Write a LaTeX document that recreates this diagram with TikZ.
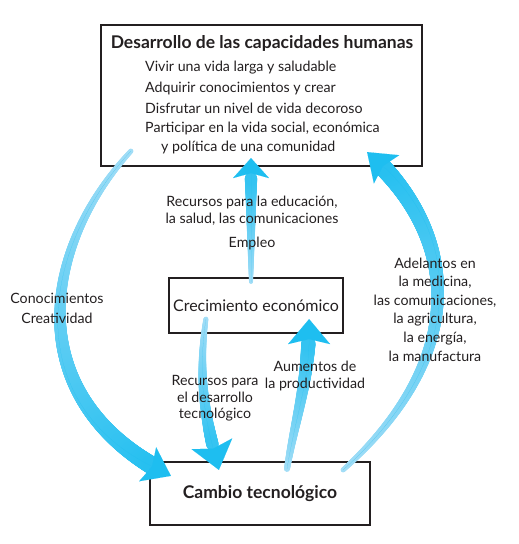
\documentclass[tikz,border=0pt]{standalone}
\usepackage{fontspec}
\setmainfont{Lato}
\usetikzlibrary{calc,decorations.markings,arrows.meta}
\definecolor{flowstart}{RGB}{163,221,246}
\definecolor{flowend}{RGB}{30,190,240}
\definecolor{tinta}{RGB}{35,31,32}
\begin{document}
\begin{tikzpicture}[x=1pt,y=-1pt,font=\fontsize{14.2}{17}\selectfont,
	box/.style={draw=tinta,text=tinta,line width=2.2pt,inner sep=0pt},
	lbl/.style={text=tinta,align=center,inner sep=0pt},
	bold/.style={font=\fontsize{17.5}{20}\selectfont\bfseries},
	flow/.style n args={4}{draw=flowend,line width=0.01pt,-{Stealth[length=#4pt,width=#3pt,inset=5pt]},
		preaction={decorate,decoration={markings,
		mark=between positions 0 and -#4pt step 0.5pt with {\pgfmathsetmacro\fr{\pgfkeysvalueof{/pgf/decoration/mark info/distance from start}/\pgfdecoratedpathlength}%
			\pgfmathsetmacro\rr{#1+(#2-#1)*\fr}\pgfmathsetmacro\pc{100*\fr}%
			\fill[flowend!\pc!flowstart] (0pt,0pt) circle (\rr pt);}}}}]
	\useasboundingbox (0,0) rectangle (519,544);
	% cajas
	\node[box,minimum width=321pt,minimum height=141pt] (desarrollo) at (261.5,95.5) {};
	\node[box,minimum width=174pt,minimum height=55pt,font=\fontsize{16}{19}\selectfont] (crecimiento) at (256,305.5) {Crecimiento económico};
	\node[box,bold,minimum width=220pt,minimum height=63pt] (cambio) at (260,493.5) {Cambio tecnológico};
	% flechas
	\draw[flow={2.5}{9.5}{38}{26}] ($(desarrollo.south west)+(31,-16)$) .. controls +(-92,100) and +(-150,-75) .. ($(cambio.north west)+(22,15)$);
	\draw[flow={2.5}{9.5}{38}{26}] ($(cambio.north east)+(-28,9)$) .. controls +(130,-117) and +(90,80) .. ($(desarrollo.south east)+(-56,-15)$);
	\draw[flow={2}{7}{36}{20}] ($(crecimiento.north)+(-5,5)$) -- ($(desarrollo.south)+(-10.5,-9)$);
	\draw[flow={2.5}{7}{42}{27}] ($(crecimiento.south west)+(38,-15)$) .. controls +(-9,62) and +(-12,-45) .. ($(cambio.north west)+(70,9)$);
	\draw[flow={3}{8}{42}{25}] ($(cambio.north)+(27,8)$) .. controls +(8,-50) and +(0,62) .. ($(crecimiento.south east)+(-35,-15)$);
	% textos
	\node[lbl,bold] (titulo) at (262,43) {Desarrollo de las capacidades humanas};
	\foreach \xx/\yy/\txt [count=\k] in {145/68/Vivir una vida larga y saludable,145/88/Adquirir conocimientos y crear,145/108/Disfrutar un nivel de vida decoroso,145/128/{Participar en la vida social, económica},161/147/y política de una comunidad}
	\node[lbl,anchor=west] (meta\k) at (\xx,\yy) {\txt};
	\node[lbl] (recursos) at (252,211) {Recursos para la educación,\\la salud, las comunicaciones};
	\node[lbl] (empleo) at (252,243) {Empleo};
	\node[lbl] (conocimientos) at (57,308) {Conocimientos\\[3pt]Creatividad};
	\node[lbl,font=\fontsize{14.2}{18.6}\selectfont] (adelantos) at (435,309.5) {Adelantos en\\la medicina,\\las comunicaciones,\\la agricultura,\\la energía,\\la manufactura};
	\node[lbl,font=\fontsize{14.2}{16.5}\selectfont] (recursostec) at (215,398.5) {Recursos para\\el desarrollo\\tecnológico};
	\node[lbl] (aumentos) at (315,375.5) {Aumentos de\\la productividad};
\end{tikzpicture}
\end{document}
